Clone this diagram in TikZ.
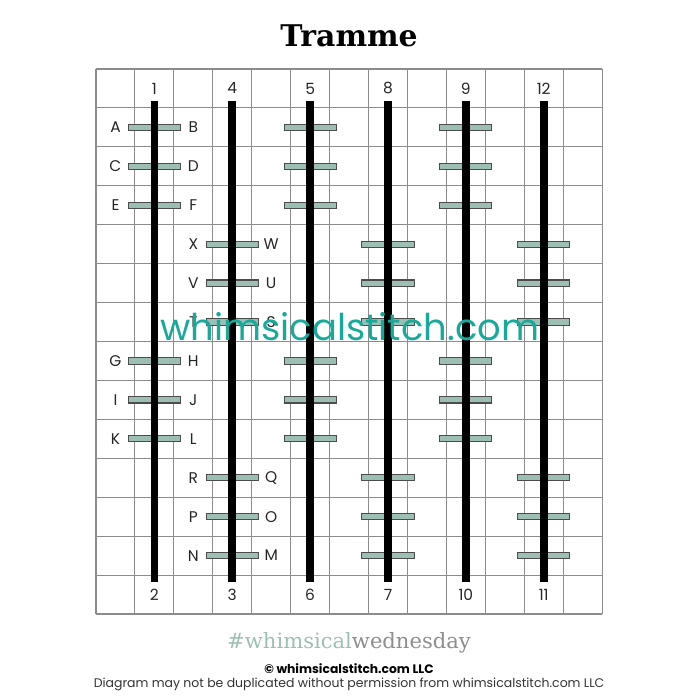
\documentclass[tikz,border=0pt]{standalone}
\usepackage{fontspec}
\setmainfont{Poppins}
\newfontfamily\slabfont{DejaVu Serif}
\definecolor{sage}{HTML}{9DBFB3}
\definecolor{teal}{HTML}{19A99B}
\definecolor{gridgray}{HTML}{8C8C8C}
\definecolor{footgray}{HTML}{8E8E8E}

\tikzset{
  gridline/.style={gridgray, line width=0.6pt},
  stitch/.style={draw=black!70, fill=sage, line width=0.6pt},
  bar/.style={fill=black},
  lbl/.style={font=\fontsize{8.8}{8.8}\selectfont, text=black!85}
}

\begin{document}
\begin{tikzpicture}[x=0.7786cm, y=-0.7786cm]
      \useasboundingbox (-2.466, -1.772) rectangle (15.515, 16.209);

      \node [font=\slabfont\bfseries\fontsize{17}{17}\selectfont] (title) at (6.5, -0.85) {Tramme};

      % grid
      \foreach \i in {0, ..., 13}
        \draw [gridline] (\i, 0) -- (\i, 14);
      \foreach \j in {0, ..., 14}
        \draw [gridline] (0, \j) -- (13, \j);

      % horizontal stitches
      \foreach \c in {1, 5, 9}
        \foreach \y in {1, 2, 3, 7, 8, 9}
          \draw [stitch] (\c + 0.5 - 0.67, \y + 0.42) rectangle (\c + 0.5 + 0.67, \y + 0.58);
      \foreach \c in {3, 7, 11}
        \foreach \y in {4, 5, 6, 10, 11, 12}
          \draw [stitch] (\c + 0.5 - 0.67, \y + 0.42) rectangle (\c + 0.5 + 0.67, \y + 0.58);

      % tramme bars
      \foreach \c in {1, 3, 5, 7, 9, 11}
        \fill [bar] (\c + 0.4, 0.82) rectangle (\c + 0.6, 13.18);

      \foreach \t/\b/\c in {1/2/1, 4/3/3, 5/6/5, 8/7/7, 9/10/9, 12/11/11} {
        \node [lbl] (top\t) at (\c + 0.5, 0.5) {\t};
        \node [lbl] (bot\b) at (\c + 0.5, 13.5) {\b};
      }

      \foreach \lft/\rgt/\y in {A/B/1, C/D/2, E/F/3, G/H/7, I/J/8, K/L/9} {
        \node [lbl] (\lft) at (0.5, \y + 0.5) {\lft};
        \node [lbl] (\rgt) at (2.5, \y + 0.5) {\rgt};
      }
      \foreach \lft/\rgt/\y in {X/W/4, V/U/5, T/S/6, R/Q/10, P/O/11, N/M/12} {
        \node [lbl] (\lft) at (2.5, \y + 0.5) {\lft};
        \node [lbl] (\rgt) at (4.5, \y + 0.5) {\rgt};
      }

      \node [text=teal, font=\fontsize{21}{21}\selectfont] (mark) at (6.52, 6.62) {whimsicalstitch.com};

      \node [font=\slabfont\fontsize{12}{12}\selectfont] (tag) at (6.5, 14.74)
        {\textcolor{sage}{\#whimsical}\textcolor{footgray}{wednesday}};
      \node [font=\bfseries\fontsize{7}{7}\selectfont] (copy) at (6.5, 15.39) {© whimsicalstitch.com LLC};
      \node [font=\fontsize{7.1}{7.1}\selectfont, text=black!80] (note) at (6.5, 15.82)
        {Diagram may not be duplicated without permission from whimsicalstitch.com LLC};
    \end{tikzpicture}
\end{document}
